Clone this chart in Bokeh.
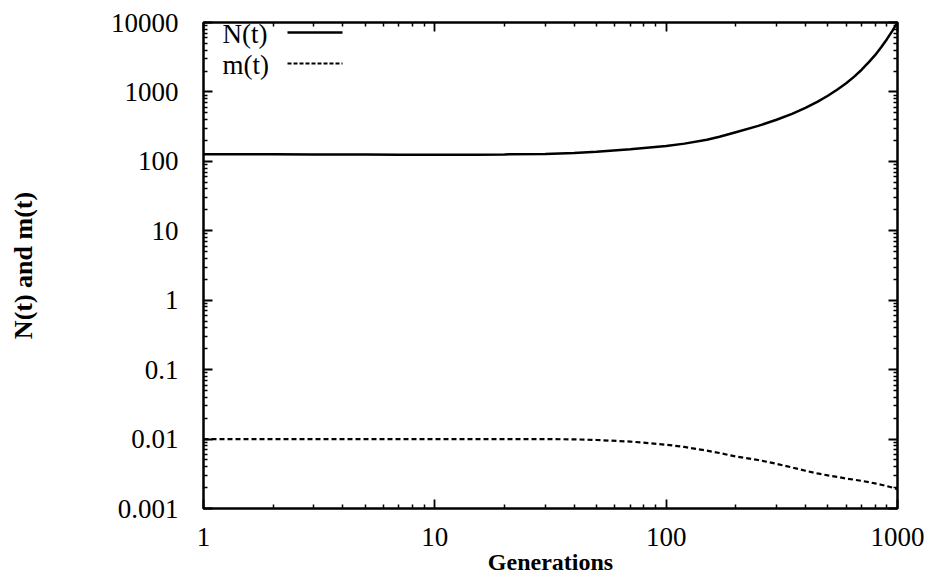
from bokeh.plotting import figure
from bokeh.models import Range1d, FixedTicker, LogAxis, Label, Arrow
from bokeh.embed import file_html
from bokeh.resources import INLINE

# Population size N(t) and mutation rate m(t) over generations
generations = [1, 2, 3, 5, 7, 10, 15, 20, 30, 40, 50, 70, 100, 120, 150,
               170, 200, 250, 300, 350, 400, 450, 500, 550, 600, 650, 700,
               750, 800, 850, 900, 950, 1000]
n_t = [127, 127, 126, 126, 125, 125, 125, 126, 128, 132, 137, 149, 166, 180,
       205, 226, 263, 324, 398, 484, 589, 719, 881, 1084, 1334, 1660, 2089,
       2660, 3388, 4416, 5754, 7590, 10000]
m_t = [0.0100, 0.0100, 0.0100, 0.0100, 0.0100, 0.0100, 0.0100, 0.0100,
       0.0100, 0.0099, 0.0097, 0.0092, 0.0083, 0.0077, 0.0068, 0.0063,
       0.0056, 0.0050, 0.0044, 0.0039, 0.0035, 0.0032, 0.0030, 0.00285,
       0.0027, 0.0026, 0.0025, 0.0024, 0.0023, 0.0022, 0.0021, 0.0020,
       0.0019]

x_ticks = [1, 10, 100, 1000]
x_tick_labels = ["1", "10", "100", "1000"]
y_ticks = [0.001, 0.01, 0.1, 1, 10, 100, 1000, 10000]
y_tick_labels = ["0.001", "0.01", "0.1", "1", "10", "100", "1000", "10000"]

SERIF = "Liberation Serif"


def minor_ticks(majors):
    return [m * k for m in majors[:-1] for k in range(2, 10)]


x_ticker = FixedTicker(ticks=x_ticks, minor_ticks=minor_ticks(x_ticks))
y_ticker = FixedTicker(ticks=y_ticks, minor_ticks=minor_ticks(y_ticks))

p = figure(width=930, height=578,
           x_axis_type="log", y_axis_type="log",
           x_range=Range1d(1, 1000), y_range=Range1d(0.001, 10000),
           output_backend="svg", toolbar_location=None,
           min_border_left=203, min_border_right=33,
           min_border_top=22, min_border_bottom=70)

p.background_fill_color = "white"
p.border_fill_color = "white"
p.grid.visible = False
p.outline_line_color = "black"
p.outline_line_width = 2.5

bottom = p.xaxis[0]
left = p.yaxis[0]

# mirrored axes on top and right carry ticks only
top_axis = LogAxis(ticker=x_ticker,
                   major_label_overrides={t: "" for t in x_ticks})
right_axis = LogAxis(ticker=y_ticker,
                     major_label_overrides={t: "" for t in y_ticks})
p.add_layout(top_axis, "above")
p.add_layout(right_axis, "right")

bottom.ticker = x_ticker
left.ticker = y_ticker

for ax in (bottom, left, top_axis, right_axis):
    ax.axis_line_color = None
    ax.major_tick_in = 9
    ax.major_tick_out = 0
    ax.minor_tick_in = 4
    ax.minor_tick_out = 0
    ax.major_tick_line_color = "black"
    ax.minor_tick_line_color = "black"
    ax.major_tick_line_width = 1.8
    ax.minor_tick_line_width = 1.5
    ax.major_label_text_font = SERIF
    ax.major_label_text_font_size = "27px"
    ax.major_label_text_color = "black"
    ax.axis_label_text_font = SERIF
    ax.axis_label_text_font_style = "bold"
    ax.axis_label_text_color = "black"

for ax in (top_axis, right_axis):
    ax.major_label_text_font_size = "1px"
    ax.major_label_standoff = 0

bottom.major_label_overrides = dict(zip(x_ticks, x_tick_labels))
bottom.major_label_standoff = 19
bottom.axis_label = "Generations"
bottom.axis_label_text_font_size = "24px"
bottom.axis_label_standoff = 0

left.major_label_overrides = dict(zip(y_ticks, y_tick_labels))
left.major_label_standoff = 25
left.major_label_orientation = "horizontal"
left.axis_label = "N(t) and m(t)"
left.axis_label_text_font_size = "26px"
left.axis_label_standoff = 70

p.line(generations, n_t, line_color="black", line_width=2.5)
p.line(generations, m_t, line_color="black", line_width=2.2,
       line_dash="5 3")

# key: label text followed by a line sample
for text, y, dash, lw in (("N(t)", 475, "solid", 2.5),
                          ("m(t)", 444, "4 2", 1.8)):
    p.add_layout(Label(x=19, y=y, x_units="screen", y_units="screen",
                       text=text, text_font=SERIF, text_font_size="27px",
                       text_baseline="middle", text_color="black"))
    p.add_layout(Arrow(start=None, end=None,
                       x_start=84, y_start=y + 1, x_end=139, y_end=y + 1,
                       start_units="screen", end_units="screen",
                       line_color="black", line_width=lw, line_dash=dash))

open("out.html", "w").write(file_html(p, INLINE))
